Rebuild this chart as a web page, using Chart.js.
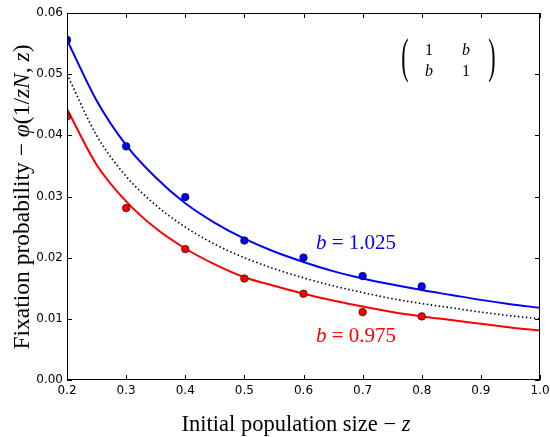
<!DOCTYPE html>
<html><head><meta charset="utf-8">
<script src="https://cdn.jsdelivr.net/npm/chart.js@4/dist/chart.umd.min.js"></script>
<style>html,body{margin:0;padding:0;background:#fff}#wrap{width:550px;height:437px}</style>
</head><body><div id="wrap"><canvas id="c" width="550" height="437" style="width:550px;height:437px"></canvas></div>
<script>
// Curve samples (z from 0.2 to 1.0 in steps of 0.05)
const zGrid = [0.20,0.25,0.30,0.35,0.40,0.45,0.50,0.55,0.60,0.65,0.70,0.75,0.80,0.85,0.90,0.95,1.00];
const blueCurve = [0.0556,0.0457,0.0384,0.0331,0.0289,0.0257,0.0231,0.0210,0.0193,0.0178,0.0166,0.0156,0.0147,0.0139,0.0131,0.0124,0.0118];
const neutralCurve = [0.0500,0.0400,0.0333,0.0286,0.0250,0.0222,0.0200,0.0182,0.0167,0.0154,0.0143,0.0133,0.0125,0.0118,0.0111,0.0105,0.0100];
const redCurve = [0.0443,0.0352,0.0292,0.0248,0.0215,0.0189,0.0168,0.0154,0.0141,0.0130,0.0120,0.0111,0.0104,0.0098,0.0092,0.0086,0.0081];
// Simulation points
const zSample = [0.2,0.3,0.4,0.5,0.6,0.7,0.8];
const bluePoints = [0.0556,0.0382,0.0299,0.0228,0.0200,0.0170,0.0153];
const redPoints = [0.0431,0.0281,0.0214,0.0166,0.0141,0.0111,0.0104];
// Ticks
const xTicks = [0.2,0.3,0.4,0.5,0.6,0.7,0.8,0.9,1.0];
const yTicks = [0.00,0.01,0.02,0.03,0.04,0.05,0.06];

const BLUE = '#0000ff', RED = '#ff0000';
const SERIF = '"Liberation Serif", "DejaVu Serif", serif';
const toXY = (xs, ys) => xs.map((x, i) => ({x: x, y: ys[i]}));

function drawRich(ctx, segs, x, y, size, color) {
  let w = 0;
  const parts = segs.map(([t, it]) => {
    ctx.font = (it ? 'italic ' : '') + size + 'px ' + SERIF;
    const m = ctx.measureText(t).width; w += m; return [t, it, m];
  });
  let cx = x - w / 2;
  ctx.fillStyle = color; ctx.textBaseline = 'alphabetic'; ctx.textAlign = 'left';
  parts.forEach(([t, it, m]) => {
    ctx.font = (it ? 'italic ' : '') + size + 'px ' + SERIF;
    ctx.fillText(t, cx, y); cx += m;
  });
}

const decor = {
  id: 'decor',
  afterDatasetsDraw(chart) {
    const {ctx, chartArea: a, scales: {x, y}} = chart;
    ctx.save();
    ctx.strokeStyle = '#000'; ctx.lineWidth = 1;
    ctx.strokeRect(a.left + 0.5, a.top + 0.5, a.right - a.left - 1, a.bottom - a.top - 1);
    ctx.beginPath();
    const L = 5;
    xTicks.forEach(v => {
      const px = Math.round(x.getPixelForValue(v)) + 0.5;
      ctx.moveTo(px, a.bottom); ctx.lineTo(px, a.bottom - L);
      ctx.moveTo(px, a.top); ctx.lineTo(px, a.top + L);
    });
    yTicks.forEach(v => {
      const py = Math.round(y.getPixelForValue(v)) + 0.5;
      ctx.moveTo(a.left, py); ctx.lineTo(a.left + L, py);
      ctx.moveTo(a.right, py); ctx.lineTo(a.right - L, py);
    });
    ctx.stroke();
    ctx.restore();
  },
  afterDraw(chart) {
    const {ctx} = chart;
    ctx.save();
    // axis titles
    drawRich(ctx, [['Initial population size \u2212 ', false], ['z', true]], 296, 431, 22.5, '#000');
    ctx.save();
    ctx.translate(29, 197); ctx.rotate(-Math.PI / 2);
    drawRich(ctx, [['Fixation probability \u2212 ', false], ['\u03c6', true], ['(1/', false], ['zN', true], [', ', false], ['z', true], [')', false]], 0, 0, 23.5, '#000');
    ctx.restore();
    // curve labels
    drawRich(ctx, [['b', true], [' = 1.025', false]], 356, 249, 21, BLUE);
    drawRich(ctx, [['b', true], [' = 0.975', false]], 356, 342, 21, RED);
    // matrix
    drawRich(ctx, [['1', false]], 429, 55, 16, '#000');
    drawRich(ctx, [['b', true]], 466, 55, 16, '#000');
    drawRich(ctx, [['b', true]], 429, 76, 16, '#000');
    drawRich(ctx, [['1', false]], 466, 76, 16, '#000');
    ctx.fillStyle = '#000'; ctx.font = '22px ' + SERIF; ctx.textAlign = 'center'; ctx.textBaseline = 'middle';
    ctx.save(); ctx.translate(405, 59); ctx.scale(1, 2.2); ctx.fillText('(', 0, 0); ctx.restore();
    ctx.save(); ctx.translate(492, 59); ctx.scale(1, 2.2); ctx.fillText(')', 0, 0); ctx.restore();
    ctx.restore();
  }
};

const tickFont = {family: '"DejaVu Sans", sans-serif', size: 12};

new Chart(document.getElementById('c'), {
  type: 'scatter',
  data: {
    datasets: [
      {label: 'b = 1.025', data: toXY(zGrid, blueCurve), showLine: true, borderColor: BLUE, borderWidth: 2, pointRadius: 0, cubicInterpolationMode: 'monotone', order: 2},
      {label: 'b = 1', data: toXY(zGrid, neutralCurve), showLine: true, borderColor: '#000', borderWidth: 1.6, borderDash: [1.5, 2.5], pointRadius: 0, cubicInterpolationMode: 'monotone', order: 2},
      {label: 'b = 0.975', data: toXY(zGrid, redCurve), showLine: true, borderColor: RED, borderWidth: 2, pointRadius: 0, cubicInterpolationMode: 'monotone', order: 2},
      {label: 'sim b = 1.025', data: toXY(zSample, bluePoints), showLine: false, pointRadius: 3.8, backgroundColor: BLUE, borderColor: '#000', borderWidth: 0.6, clip: 0, order: 1},
      {label: 'sim b = 0.975', data: toXY(zSample, redPoints), showLine: false, pointRadius: 3.8, backgroundColor: RED, borderColor: '#000', borderWidth: 0.6, clip: 0, order: 1}
    ]
  },
  options: {
    responsive: false, animation: false, devicePixelRatio: 1,
    layout: {padding: {left: 0, top: 13, right: 10, bottom: 0}},
    plugins: {legend: {display: false}, tooltip: {enabled: false}},
    scales: {
      x: {
        type: 'linear', min: 0.2, max: 1.0,
        afterBuildTicks: s => { s.ticks = xTicks.map(v => ({value: v})); },
        afterFit: s => { s.height = 57; s.paddingLeft = 0; s.paddingRight = 0; },
        grid: {display: false, drawTicks: false}, border: {display: false},
        ticks: {color: '#000', font: tickFont, padding: 4, maxRotation: 0, autoSkip: false, callback: v => Number(v).toFixed(1)}
      },
      y: {
        type: 'linear', min: 0, max: 0.06,
        afterBuildTicks: s => { s.ticks = yTicks.map(v => ({value: v})); },
        afterFit: s => { s.width = 67; s.paddingTop = 0; s.paddingBottom = 0; },
        grid: {display: false, drawTicks: false}, border: {display: false},
        ticks: {color: '#000', font: tickFont, padding: 4, autoSkip: false, callback: v => Number(v).toFixed(2)}
      }
    }
  },
  plugins: [decor]
});
</script>
</body></html>
